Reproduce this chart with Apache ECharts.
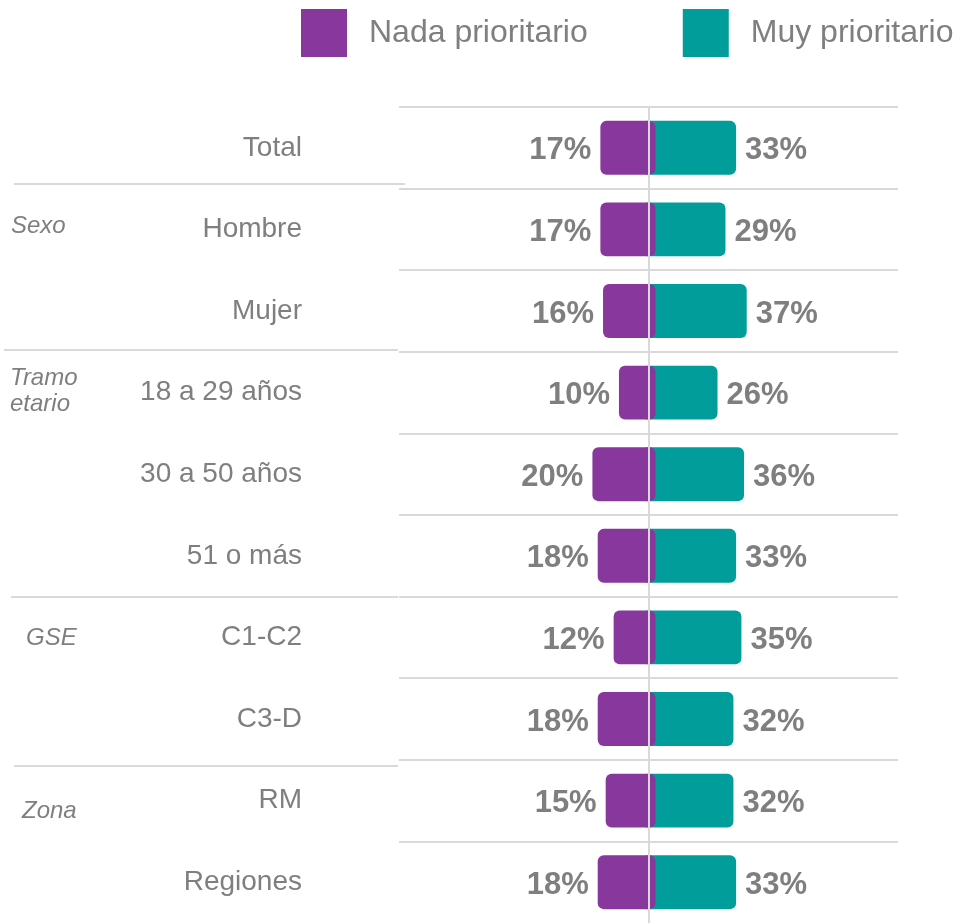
<!DOCTYPE html>
<html><head><meta charset="utf-8">
<script src="https://cdn.jsdelivr.net/npm/echarts@6/dist/echarts.min.js"></script>
<style>html,body{margin:0;padding:0;background:#fff}#c{width:960px;height:923px}</style>
</head><body><div id="c"></div>
<script>
const categories = ['Total','Hombre','Mujer','18 a 29 años','30 a 50 años','51 o más','C1-C2','C3-D','RM','Regiones'];
const nadaValues = [17,17,16,10,20,18,12,18,15,18];
const muyValues = [33,29,37,26,36,33,35,32,32,33];
const seriesNames = ['Nada prioritario','Muy prioritario'];

const PURPLE = '#88379D', TEAL = '#009D9A', GREY = '#7f7f7f', LINE = '#d9d9d9';
const FONT = '"Liberation Sans", Arial, sans-serif';

function makeRender(isLeft, color) {
  return function (params, api) {
    const v = api.value(0), cat = api.value(1);
    const c0 = api.coord([0, cat]);
    const cv = api.coord([isLeft ? -v : v, cat]);
    const h = api.size([0, 1])[1] * 0.66;
    let x1, x2;
    if (isLeft) { x1 = cv[0] - 3; x2 = c0[0] + 7; } else { x1 = c0[0] - 7; x2 = cv[0]; }
    const label = v + '%';
    return {
      type: 'group',
      children: [
        { type: 'rect', shape: { x: x1, y: c0[1] - h / 2, width: x2 - x1, height: h, r: 6 }, style: { fill: color } },
        { type: 'text', style: { text: label, x: isLeft ? x1 - 9 : x2 + 9, y: c0[1] + 3, align: isLeft ? 'right' : 'left', verticalAlign: 'middle', fill: GREY, font: 'bold 31px ' + FONT } }
      ]
    };
  };
}

const chart = echarts.init(document.getElementById('c'), null, { renderer: 'canvas' });
const groupText = (t, x, y) => ({ type: 'text', left: x, top: y, style: { text: t, fill: GREY, font: 'italic 24px ' + FONT } });
const sep = (y, x1, x2) => ({ type: 'line', shape: { x1: x1, y1: y, x2: x2, y2: y }, style: { stroke: LINE, lineWidth: 2 } });

chart.setOption({
  animation: false,
  legend: {
    data: seriesNames,
    left: 301, top: 9, padding: 0,
    icon: 'rect',
    itemWidth: 46, itemHeight: 48, itemGap: 95,
    textStyle: { fontSize: 32, color: GREY, fontFamily: FONT, padding: [3, 0, 0, 17] }
  },
  grid: { left: 399, width: 499, top: 107, height: 820 },
  xAxis: { type: 'value', min: -94, max: 94, show: false },
  yAxis: {
    type: 'category', inverse: true, data: categories, z: 10,
    axisTick: { show: false },
    axisLine: { show: true, onZero: true, lineStyle: { color: LINE, width: 2 } },
    axisLabel: { margin: 97, fontSize: 28, color: GREY, fontFamily: FONT, padding: [3, 0, 0, 0] },
    splitLine: { show: true, showMaxLine: false, lineStyle: { color: LINE, width: 2 } }
  },
  graphic: [
    sep(184, 14, 405), sep(350, 4, 398), sep(597, 11, 398), sep(766, 14, 398),
    groupText('Sexo', 11, 214),
    groupText('Tramo', 10, 366),
    groupText('etario', 10, 392),
    groupText('GSE', 26, 626),
    groupText('Zona', 22, 799)
  ],
  series: [
    { name: seriesNames[1], type: 'custom', renderItem: makeRender(false, TEAL), itemStyle: { color: TEAL }, encode: { x: 0, y: 1 }, z: 2,
      data: muyValues.map((v, i) => [v, i]) },
    { name: seriesNames[0], type: 'custom', renderItem: makeRender(true, PURPLE), itemStyle: { color: PURPLE }, encode: { x: 0, y: 1 }, z: 3,
      data: nadaValues.map((v, i) => [v, i]) }
  ]
});
</script></body></html>
